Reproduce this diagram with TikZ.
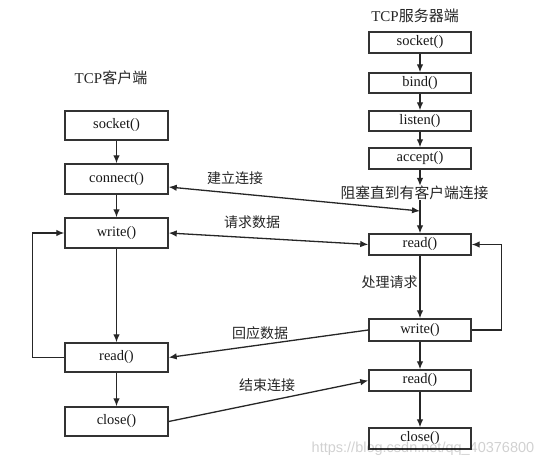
\documentclass[tikz,border=0pt]{standalone}
\usepackage{fontspec}
\setmainfont{Liberation Serif}
\newfontfamily\cjk{Noto Sans CJK SC}
\newfontfamily\wmfont{Liberation Sans}
\usetikzlibrary{arrows.meta,calc}
\begin{document}
\begin{tikzpicture}[x=1pt,y=-1pt,
  fbox/.style={draw=black!80,line width=1.4pt,minimum width=103pt,inner sep=0pt,font=\fontsize{14.5}{16}\selectfont,text=black!90},
  sbox/.style={fbox,minimum width=102pt},
  lbl/.style={font=\cjk\fontsize{14}{16}\selectfont,text=black!85,inner sep=0pt},
  conn/.style={draw=black!85,line width=1.3pt,-{Latex[length=8pt,width=6.5pt]}},
  conn2/.style={draw=black!85,line width=1.3pt,{Latex[length=8pt,width=6.5pt]}-{Latex[length=8pt,width=6.5pt]}}]
\useasboundingbox (0,0) rectangle (554,468);
\fill[white] (0,0) rectangle (554,468);
% titles
\node[font=\fontsize{15}{17}\selectfont,text=black!85,inner sep=0pt] (tc) at (111,78) {TCP{\cjk 客户端}};
\node[font=\fontsize{15}{17}\selectfont,text=black!85,inner sep=0pt] (ts) at (415,16) {TCP{\cjk 服务器端}};
% client boxes
\node[fbox,minimum height=29pt] (cs) at (116.5,125.5) {socket()};
\node[fbox,minimum height=30pt] (cc) at (116.5,179) {connect()};
\node[fbox,minimum height=30pt] (cw) at (116.5,233) {write()};
\node[fbox,minimum height=29pt] (cr) at (116.5,357.5) {read()};
\node[fbox,minimum height=29pt] (ccl) at (116.5,421.5) {close()};
% server boxes
\node[sbox,minimum height=21pt] (ss) at (420,42.5) {socket()};
\node[sbox,minimum height=20pt] (sb) at (420,83) {bind()};
\node[sbox,minimum height=20pt] (sl) at (420,121) {listen()};
\node[sbox,minimum height=21pt] (sa) at (420,158.5) {accept()};
\node[lbl,font=\cjk\fontsize{14.8}{16}\selectfont] (blk) at (414.5,193) {阻塞直到有客户端连接};
\node[sbox,minimum height=21pt] (sr) at (420,244.5) {read()};
\node[sbox,minimum height=22pt] (sw) at (420,330) {write()};
\node[sbox,minimum height=21pt] (sr2) at (420,380.5) {read()};
\node[sbox,minimum height=21pt] (scl) at (420,438.5) {close()};
% client flow
\draw[conn] (cs) -- (cc);
\draw[conn] (cc) -- (cw);
\draw[conn] (cw) -- (cr);
\draw[conn] (cr) -- (ccl);
\draw[conn] (cr.west) -- ++(-32,0) |- (cw.west);
% server flow
\draw[conn] (ss) -- (sb);
\draw[conn] (sb) -- (sl);
\draw[conn] (sl) -- (sa);
\draw[conn] (sa.south) -- (sa.south |- blk.north);
\draw[conn] (sa.south |- blk.south) -- (sr.north);
\draw[conn] (sr) -- (sw);
\draw[conn] (sw) -- (sr2);
\draw[conn] (sr2) -- (scl);
\draw[conn] (sw.east) -- ++(30,0) |- (sr.east);
% cross connectors
\coordinate (j1) at (420,211);
\draw[conn2] ($(cc.east)+(0,8)$) -- (j1);
\draw[conn2] (cw.east) -- (sr.west);
\draw[conn] (sw.west) -- (cr.east);
\draw[conn] (ccl.east) -- (sr2.west);
% labels
\node[lbl] (l1) at (235,178) {建立连接};
\node[lbl] (l2) at (252,222) {请求数据};
\node[lbl] (l3) at (260,333) {回应数据};
\node[lbl] (l4) at (267,385) {结束连接};
\node[lbl] (l5) at (389.5,282) {处理请求};
% watermark
\node[font=\wmfont\fontsize{14.5}{16}\selectfont,text=black,opacity=0.18,inner sep=0pt] (wm) at (423,449) {https://blog.csdn.net/qq\_40376800};
\end{tikzpicture}
\end{document}
